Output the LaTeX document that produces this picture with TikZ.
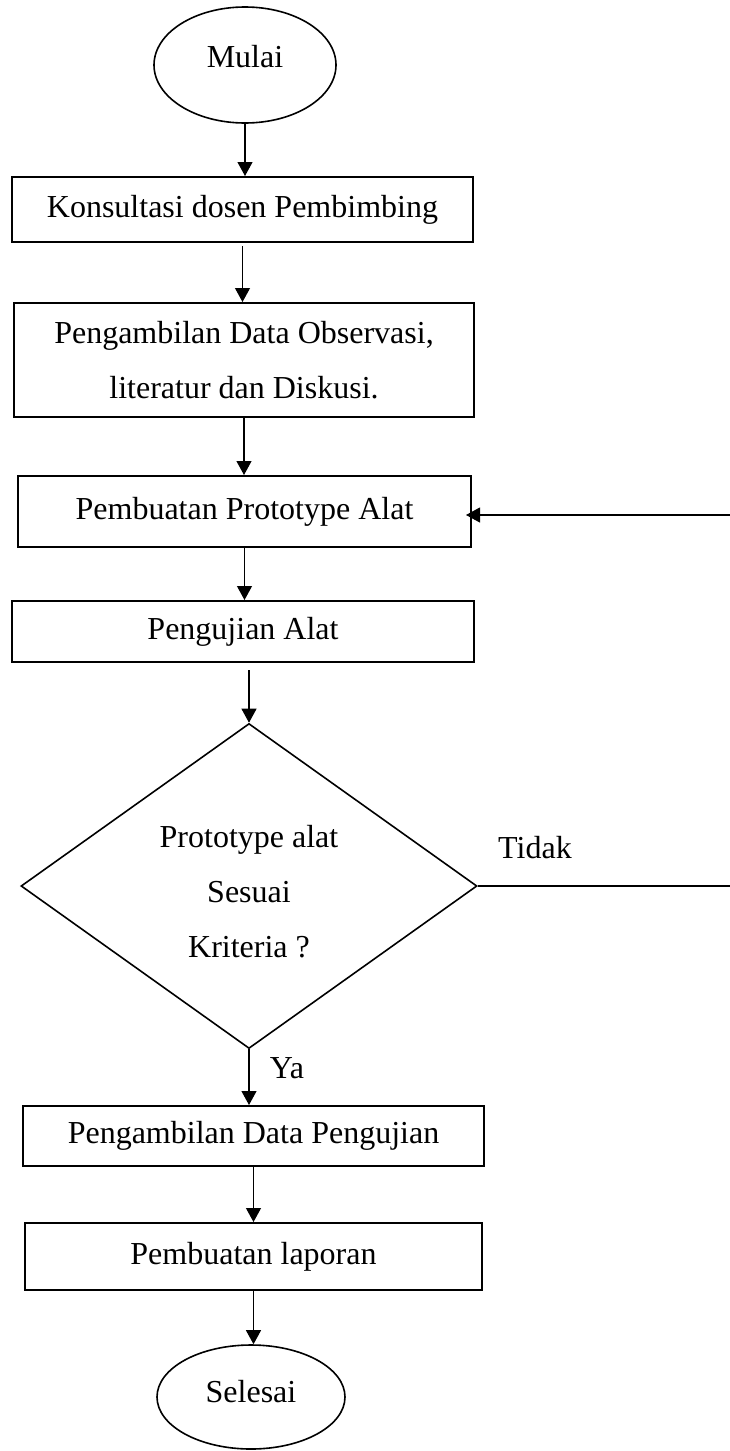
\documentclass[tikz,border=0pt]{standalone}
\usepackage{fontspec}
\setmainfont{Liberation Serif}
\usetikzlibrary{shapes.geometric,arrows.meta}
\begin{document}
\begin{tikzpicture}[x=1pt,y=-1pt,
  every node/.style={font=\fontsize{32}{55}\selectfont, inner sep=0pt},
  stepbox/.style={draw, line width=2pt, rectangle, align=center},
  term/.style={draw, ellipse, line width=1.6pt},
  arr/.style={line width=1.1pt, -{Triangle[length=14pt,width=15pt]}},
  plain/.style={line width=1.1pt}]
\useasboundingbox (0,0) rectangle (730,1451);

% terminals
\node[term, minimum width=182pt, minimum height=116pt] (mulai) at (245,65) {};
\node (mulaiT) at (245,57) {Mulai};

% process steps
\node[stepbox, minimum width=461pt, minimum height=65pt] (k1) at (242.5,209.5) {Konsultasi dosen Pembimbing};
\node[stepbox, minimum width=460pt, minimum height=114pt] (k2) at (244,360) {Pengambilan Data Observasi,\\literatur dan Diskusi.};
\node[stepbox, minimum width=453pt, minimum height=71pt] (k3) at (244.5,511.5) {Pembuatan Prototype Alat};
\node[stepbox, minimum width=462pt, minimum height=61pt] (k4) at (243,631.5) {Pengujian Alat};

% decision
\node[draw, diamond, line width=1.6pt, minimum width=456pt, minimum height=325pt] (dec) at (249,886) {};
\node[align=center] (decT) at (249,892) {Prototype alat\\Sesuai\\Kriteria ?};

\node[stepbox, minimum width=461pt, minimum height=60pt] (k5) at (253.5,1136) {Pengambilan Data Pengujian};
\node[stepbox, minimum width=457pt, minimum height=67pt] (k6) at (253.5,1256.5) {Pembuatan laporan};

\node[term, minimum width=188pt, minimum height=104pt] (selesai) at (251,1397) {};
\node (selesaiT) at (251,1392) {Selesai};

% branch labels
\node (tidak) at (535,848) {Tidak};
\node (ya) at (287,1068) {Ya};

% loop ends at the page edge
\coordinate (loopout) at (730,886);
\coordinate (loopin) at (730,515);

% main flow
\draw[arr] (mulai.south) -- (mulai.south |- k1.north);
\draw[arr] ([yshift=-3pt]k1.south) -- (k1.south |- k2.north);
\draw[arr] (k2.south) -- (k2.south |- k3.north);
\draw[arr] (k3.south) -- (k3.south |- k4.north);
\draw[arr] ([yshift=-7pt]dec.north |- k4.south) -- (dec.north);
\draw[arr] (dec.south) -- (dec.south |- k5.north);
\draw[arr] (k5.south) -- (k5.south |- k6.north);
\draw[arr] (k6.south) -- (k6.south |- selesai.north);

% rejection loop
\draw[plain] (dec.east) -- (loopout);
\draw[arr] (loopin) -- ([xshift=-6pt]loopin -| k3.east);
\end{tikzpicture}
\end{document}
